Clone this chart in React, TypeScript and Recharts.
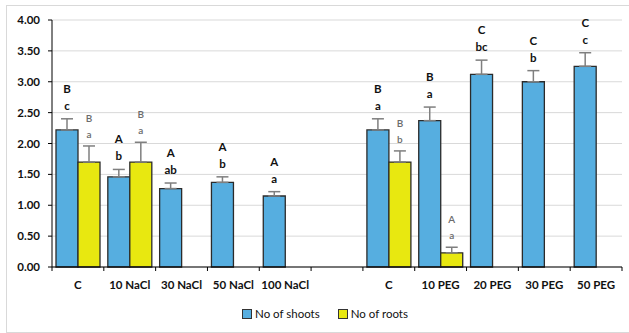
import { BarChart, Bar, XAxis, YAxis, CartesianGrid, ErrorBar, LabelList, Legend } from 'recharts';

const categories = ['C', '10 NaCl', '30 NaCl', '50 NaCl', '100 NaCl', '', 'C', '10 PEG', '20 PEG', '30 PEG', '50 PEG'];
const shoots = [2.22, 1.46, 1.27, 1.37, 1.15, null, 2.22, 2.37, 3.12, 3.0, 3.25];
const shootErr = [0.18, 0.12, 0.09, 0.09, 0.07, null, 0.18, 0.22, 0.23, 0.18, 0.22];
const roots = [1.7, 1.7, null, null, null, null, 1.7, 0.23, null, null, null];
const rootErr = [0.26, 0.32, null, null, null, null, 0.18, 0.09, null, null, null];
const shootTop = ['B', 'A', 'A', 'A', 'A', '', 'B', 'B', 'C', 'C', 'C'];
const shootBottom = ['c', 'b', 'ab', 'b', 'a', '', 'a', 'a', 'bc', 'b', 'c'];
const rootTop = ['B', 'B', '', '', '', '', 'B', 'A', '', '', ''];
const rootBottom = ['a', 'a', '', '', '', '', 'b', 'a', '', '', ''];
const yTicks = [0, 0.5, 1, 1.5, 2, 2.5, 3, 3.5, 4];

const W = 629;
const H = 333;
const M = { top: 20, right: 7, left: 0, bottom: 0 };
const Y_W = 52;
const FONT = 'Lato, "Open Sans", sans-serif';
const BLUE = '#56aee0';
const YELLOW = '#e8e810';

const data = categories.map((name, i) => ({
    idx: i,
    name,
    shoots: shoots[i],
    shootErr: shootErr[i] == null ? null : [0, shootErr[i]],
    roots: roots[i],
    rootErr: rootErr[i] == null ? null : [0, rootErr[i]],
}));

const band = (W - M.left - M.right - Y_W) / categories.length;

function makeLabel(vals: (number | null)[], errs: (number | null)[], top: string[], bottom: string[], root: boolean) {
    // eslint-disable-next-line @typescript-eslint/no-explicit-any
    return (props: any) => {
        const { x, y, width, height, value } = props;
        const i = Number(value);
        const v = vals[i];
        if (v == null || !top[i]) return null;
        const err = errs[i] ?? 0;
        const errTop = y - (err * height) / v;
        const cx = x + width / 2;
        const style = root
            ? { fontSize: 10, fill: '#6b6b6b', fontWeight: 600 }
            : { fontSize: 11.5, fill: '#111', fontWeight: 700 };
        return (
            <g fontFamily={FONT}>
                <text x={cx} y={errTop - (root ? 24 : 26)} textAnchor="middle" {...style}>{top[i]}</text>
                <text x={cx} y={errTop - (root ? 8 : 9)} textAnchor="middle" {...style}>{bottom[i]}</text>
            </g>
        );
    };
}

// eslint-disable-next-line @typescript-eslint/no-explicit-any
const rowIndex = (entry: any) => entry?.payload?.idx;

// eslint-disable-next-line @typescript-eslint/no-explicit-any
function CategoryTick(props: any) {
    const { x, y, payload, index } = props;
    const left = x - band / 2;
    return (
        <g>
            <line x1={left} y1={y} x2={left} y2={y + 4} stroke="#000" />
            {index === categories.length - 1 && (
                <line x1={x + band / 2} y1={y} x2={x + band / 2} y2={y + 4} stroke="#000" />
            )}
            <text x={x} y={y + 22} textAnchor="middle" fontFamily={FONT} fontSize={11.5} fontWeight={700} fill="#111">
                {payload.value}
            </text>
        </g>
    );
}

function LegendBox() {
    const item = (color: string, label: string) => (
        <span style={{ display: 'inline-flex', alignItems: 'center', marginRight: 18 }}>
            <span style={{ width: 8, height: 8, background: color, border: '1px solid #333', marginRight: 3 }} />
            <span>{label}</span>
        </span>
    );
    return (
        <div style={{ display: 'flex', justifyContent: 'center', paddingLeft: 46, fontFamily: FONT, fontSize: 11.5, color: '#111' }}>
            {item(BLUE, 'No of shoots')}
            {item(YELLOW, 'No of roots')}
        </div>
    );
}

export default function App() {
    return (
        <div style={{ position: 'absolute', left: 0, top: 0, width: W, height: H, background: '#fff', overflow: 'hidden' }}>
            <div style={{ position: 'absolute', left: 6, top: 5, width: W, height: 326, border: '1px solid #d9d9d9' }} />
            <BarChart width={W} height={H} data={data} margin={M} barSize={22} barGap={0}>
                <CartesianGrid vertical={false} stroke="#d9d9d9" />
                <XAxis
                    dataKey="name"
                    height={40}
                    tickLine={false}
                    tickSize={0}
                    tickMargin={0}
                    axisLine={{ stroke: '#000' }}
                    tick={<CategoryTick />}
                    interval={0}
                />
                <YAxis
                    width={Y_W}
                    domain={[0, 4]}
                    ticks={yTicks}
                    tickFormatter={(v: number) => v.toFixed(2)}
                    tickSize={4}
                    tickMargin={8}
                    axisLine={{ stroke: '#000' }}
                    tickLine={{ stroke: '#000' }}
                    tick={{ fill: '#111', fontSize: 11.5, fontWeight: 700, fontFamily: FONT }}
                />
                <Legend verticalAlign="bottom" height={26} content={<LegendBox />} />
                <Bar dataKey="shoots" fill={BLUE} stroke="#2b2b2b" strokeWidth={1.3} isAnimationActive={false}>
                    <ErrorBar dataKey="shootErr" direction="y" width={6} stroke="#7f7f7f" strokeWidth={1.5} />
                    <LabelList valueAccessor={rowIndex} content={makeLabel(shoots, shootErr, shootTop, shootBottom, false)} />
                </Bar>
                <Bar dataKey="roots" fill={YELLOW} stroke="#2b2b2b" strokeWidth={1.3} isAnimationActive={false}>
                    <ErrorBar dataKey="rootErr" direction="y" width={6} stroke="#7f7f7f" strokeWidth={1.5} />
                    <LabelList valueAccessor={rowIndex} content={makeLabel(roots, rootErr, rootTop, rootBottom, true)} />
                </Bar>
            </BarChart>
        </div>
    );
}
